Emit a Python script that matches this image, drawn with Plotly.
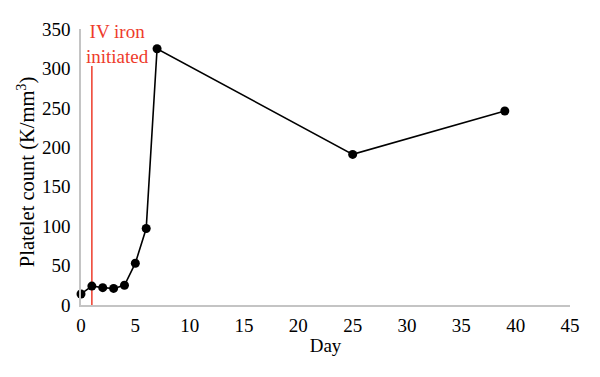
import plotly.graph_objects as go

days = [0, 1, 2, 3, 4, 5, 6, 7, 25, 39]
platelets = [14, 24, 22, 21, 25, 53, 97, 325, 191, 246]
x_ticks = [0, 5, 10, 15, 20, 25, 30, 35, 40, 45]
y_ticks = [0, 50, 100, 150, 200, 250, 300, 350]
iron_day = 1
iron_line_top = 303
label_text = "IV iron<br>initiated"
y_title = "Platelet count (K/mm<sup>3</sup>)"

FONT = "Liberation Serif"
RED = "#ee3b2b"

fig = go.Figure()
fig.add_trace(go.Scatter(
    x=[iron_day, iron_day], y=[-2, iron_line_top], mode="lines",
    line=dict(color=RED, width=1.5), showlegend=False, hoverinfo="skip"))
fig.add_trace(go.Scatter(
    x=days, y=platelets, mode="lines+markers",
    line=dict(color="black", width=1.6),
    marker=dict(color="black", size=9),
    showlegend=False, cliponaxis=False))

fig.add_annotation(x=3.36, y=331, xref="x", yref="y", text=label_text,
                   showarrow=False, font=dict(family=FONT, size=19, color=RED),
                   align="center")
fig.add_annotation(x=-0.1125, y=0.485, xref="paper", yref="paper", text=y_title,
                   textangle=-90, showarrow=False, xanchor="center", yanchor="middle",
                   font=dict(family=FONT, size=20.5, color="black"))

fig.update_layout(
    width=600, height=377,
    margin=dict(l=81, r=30, t=29, b=72, autoexpand=False),
    paper_bgcolor="white", plot_bgcolor="white",
    font=dict(family=FONT, size=19, color="black"),
)
fig.update_xaxes(range=[0, 45], tickvals=x_ticks, showgrid=False, zeroline=False,
                 showline=True, linecolor="#c4c4c4", linewidth=1.5, ticks="",
                 automargin=False,
                 title=dict(text="Day", font=dict(size=19), standoff=4),
                 ticklabelstandoff=2)
fig.update_yaxes(range=[0, 350], tickvals=y_ticks, showgrid=False, zeroline=False,
                 showline=True, linecolor="#c4c4c4", linewidth=1.5, ticks="",
                 automargin=False, ticklabelstandoff=5)

fig.write_html("out.html", config={"displayModeBar": False},
               post_script="document.body.style.margin='0';document.body.style.overflow='hidden';")
